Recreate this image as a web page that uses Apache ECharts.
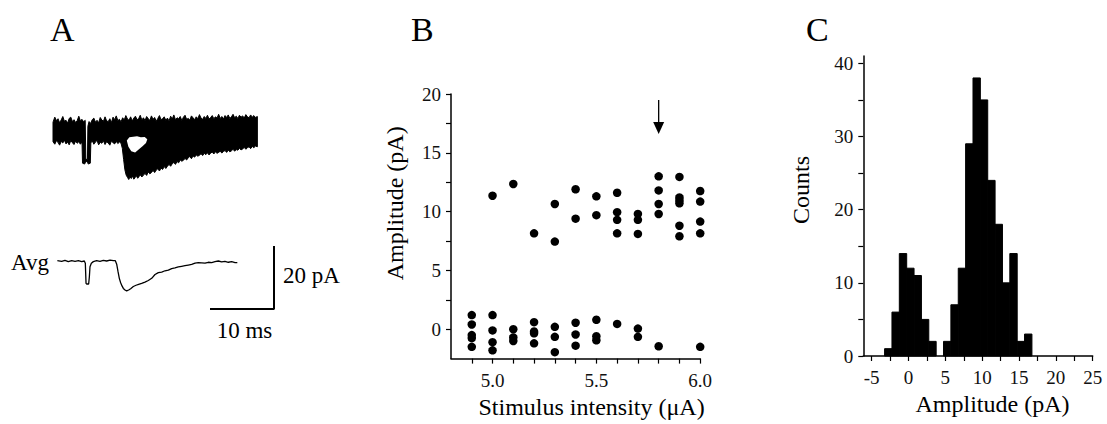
<!DOCTYPE html>
<html>
<head>
<meta charset="utf-8">
<script src="https://cdn.jsdelivr.net/npm/echarts@6/dist/echarts.min.js"></script>
<style>
  html, body { margin: 0; padding: 0; background: #fff; }
  #chart { width: 1107px; height: 424px; }
</style>
</head>
<body>
<div id="chart"></div>
<script>
// ---------- Panel A : current traces (time in ms, current in pA) ----------
// upper / lower edge of the superimposed sweeps
const overlayTop = [
  [0.47,2.8],[0.75,4.4],[1.0,3.3],[1.25,3.9],[1.5,2.6],[1.75,3.5],[2.0,4.6],[2.25,3.1],[2.5,3.4],[2.75,2.5],
  [3.0,4.0],[3.25,4.4],[3.5,3.0],[3.75,3.6],[4.0,2.7],[4.25,3.3],[4.5,4.7],[4.75,3.2],[5.0,3.7],[5.25,2.9],[5.5,3.4],
  [5.6,-9.0],[5.85,-9.0],[5.92,1.5],[6.1,3.0],[6.35,2.4],[6.6,3.6],[6.85,4.1],[7.1,2.8],[7.35,3.4],[7.6,2.6],
  [7.85,4.3],[8.1,3.5],[8.35,3.1],[8.6,4.5],[8.85,3.2],[9.1,3.0],[9.35,3.9],[9.6,2.7],[9.85,4.4],[10.1,3.6],
  [10.35,4.8],[10.6,3.3],[10.85,3.7],[11.1,2.9],[11.35,4.2],[11.6,3.5],[11.85,4.9],[12.1,3.8],[12.35,3.4],[12.6,4.5],
  [12.85,3.2],[13.1,4.1],[13.35,4.7],[13.6,3.6],[13.85,3.9],[14.1,5.0],[14.35,3.5],[14.6,4.2],[14.85,3.3],[15.1,4.6],
  [15.35,3.9],[15.6,3.4],[15.85,4.8],[16.1,3.7],[16.35,4.3],[16.6,3.1],[16.85,4.0],[17.1,4.9],[17.35,3.6],[17.6,3.9],
  [17.85,4.5],[18.1,3.4],[18.35,4.1],[18.6,3.2],[18.85,4.7],[19.1,3.8],[19.35,5.1],[19.6,3.6],[19.85,4.2],[20.1,3.9],
  [20.35,4.6],[20.6,3.3],[20.85,4.4],[21.1,5.0],[21.35,3.7],[21.6,4.0],[21.85,3.5],[22.1,4.8],[22.35,4.2],[22.6,3.6],
  [22.85,4.5],[23.1,3.9],[23.35,5.2],[23.6,4.1],[23.85,3.7],[24.1,4.6],[24.35,4.0],[24.6,5.0],[24.85,3.8],[25.1,4.3],
  [25.35,4.9],[25.6,3.9],[25.85,4.5],[26.1,4.1],[26.35,5.3],[26.6,4.0],[26.85,4.6],[27.1,3.8],[27.35,4.9],[27.6,4.3],
  [27.85,5.1],[28.1,4.0],[28.35,4.5],[28.6,5.3],[28.85,4.2],[29.1,4.7],[29.35,4.0],[29.6,5.0],[29.85,4.4],[30.1,4.8],
  [30.35,4.1],[30.6,5.2],[30.85,4.5],[31.1,4.2],[31.35,5.1],[31.6,4.4],[31.85,4.9],[32.1,4.3],[32.4,4.6]
];
const overlayBottom = [
  [0.47,-3.4],[0.75,-4.2],[1.0,-3.1],[1.25,-3.6],[1.5,-4.5],[1.75,-3.3],[2.0,-3.8],[2.25,-2.9],[2.5,-4.1],[2.75,-3.5],
  [3.0,-4.4],[3.25,-3.0],[3.5,-3.7],[3.75,-4.3],[4.0,-3.2],[4.25,-3.9],[4.5,-3.4],[4.75,-4.2],[5.0,-3.5],
  [5.08,-10.2],[5.4,-10.5],[5.55,-10.0],[5.7,-9.6],[5.85,-10.0],[6.0,-10.5],[6.3,-10.2],[6.38,-3.8],
  [6.6,-3.1],[6.85,-4.2],[7.1,-3.5],[7.35,-3.0],[7.6,-4.4],[7.85,-3.6],[8.1,-3.9],[8.35,-3.1],[8.6,-4.3],[8.85,-3.4],
  [9.1,-3.8],[9.35,-4.5],[9.6,-3.2],[9.85,-3.7],[10.1,-4.1],[10.35,-3.3],[10.6,-4.0],[10.85,-3.5],[11.1,-3.9],
  [11.3,-5.5],[11.5,-9.0],[11.7,-12.3],[11.9,-14.0],[12.1,-14.7],[12.3,-15.4],[12.5,-14.6],[12.7,-15.1],[12.9,-14.3],
  [13.1,-15.3],[13.3,-14.8],[13.5,-14.2],[13.7,-15.0],[13.9,-14.5],[14.1,-13.9],[14.35,-14.6],[14.6,-14.0],[14.85,-13.5],
  [15.1,-14.1],[15.35,-13.0],[15.6,-13.6],[15.85,-13.2],[16.1,-12.5],[16.35,-13.2],[16.6,-12.4],[16.85,-12.0],[17.1,-12.7],
  [17.35,-11.8],[17.6,-12.2],[17.85,-11.3],[18.1,-11.9],[18.35,-11.2],[18.6,-10.6],[18.85,-11.2],[19.1,-10.4],[19.35,-10.0],
  [19.6,-10.6],[19.85,-9.7],[20.1,-10.1],[20.35,-9.2],[20.6,-9.6],[20.85,-9.3],[21.1,-8.7],[21.35,-9.2],[21.6,-8.5],
  [21.85,-8.1],[22.1,-8.8],[22.35,-7.9],[22.6,-8.3],[22.85,-7.6],[23.1,-8.0],[23.35,-7.7],[23.6,-7.2],[23.85,-7.8],
  [24.1,-7.1],[24.35,-7.5],[24.6,-6.9],[24.85,-7.6],[25.1,-7.0],[25.35,-6.7],[25.6,-7.3],[25.85,-6.6],[26.1,-7.1],
  [26.35,-6.8],[26.6,-6.4],[26.85,-7.0],[27.1,-6.5],[27.35,-6.2],[27.6,-6.8],[27.85,-6.1],[28.1,-6.6],[28.35,-6.3],
  [28.6,-5.8],[28.85,-6.4],[29.1,-5.9],[29.35,-6.1],[29.6,-5.5],[29.85,-6.0],[30.1,-5.7],[30.35,-5.2],[30.6,-5.8],
  [30.85,-5.3],[31.1,-5.0],[31.35,-5.6],[31.6,-4.9],[31.85,-5.3],[32.1,-4.8],[32.4,-5.0]
];
// gap between failures and successes in the superimposed sweeps
const overlayGap = [
  [12.0,-3.0],[12.4,-2.0],[13.0,-1.8],[13.6,-1.7],[14.2,-2.0],[14.8,-1.9],[15.2,-2.6],
  [15.0,-3.8],[14.5,-4.8],[13.9,-5.8],[13.3,-6.8],[12.7,-6.4],[12.25,-5.0]
];
// averaged trace
const avgTrace = [
  [1.15,0.1],[1.82,-0.1],[2.34,0.2],[2.86,-0.2],[3.39,0.1],[3.91,-0.1],[4.43,0.1],[4.95,-0.2],[5.36,0],
  [5.52,-0.7],[5.63,-7.1],[5.73,-7.3],[6.04,-7.3],[6.15,-5.0],[6.25,-1.8],[6.46,-0.7],[6.77,-0.2],
  [7.29,0.1],[7.81,-0.1],[8.33,0.2],[8.85,0],[9.38,0.3],[9.9,0.1],[10.21,0.1],[10.42,-1.0],[10.63,-3.4],
  [10.83,-5.5],[11.04,-6.9],[11.25,-7.9],[11.46,-8.7],[11.72,-9.2],[11.98,-9.5],[12.29,-9.2],[12.6,-8.8],
  [13.02,-8.1],[13.44,-7.7],[13.85,-7.4],[14.32,-7.1],[14.84,-6.7],[15.36,-6.2],[15.89,-5.5],[16.41,-4.3],
  [16.93,-3.7],[17.45,-3.5],[17.97,-3.1],[18.49,-2.9],[19.01,-2.4],[19.53,-2.2],[20.05,-1.9],[20.57,-1.7],
  [21.09,-1.5],[21.61,-1.3],[22.14,-1.1],[22.66,-0.7],[23.18,-0.5],[23.7,-0.6],[24.22,-0.7],[24.74,-0.4],
  [25.26,-0.5],[25.78,-0.2],[26.3,0],[26.82,-0.3],[27.34,-0.1],[27.86,-0.4],[28.39,-0.2],[28.91,-0.5],[29.27,-0.5]
];
// scale bar (ms, pA)
const scaleBarCorner = [35, -15.24];
const scaleBarMs = 10;
const scaleBarPA = 20;

// ---------- Panel B : amplitude vs stimulus intensity ----------
const intensities = [4.9, 5.0, 5.1, 5.2, 5.3, 5.4, 5.5, 5.6, 5.7, 5.8, 5.9, 6.0];
const amplitudes = [
  [1.2, 0.4, -0.5, -0.75, -1.5],
  [11.35, 1.2, -0.1, -1.1, -1.8],
  [12.35, 0.0, -0.7, -1.0],
  [8.15, 0.6, -0.2, -0.35, -1.2],
  [10.65, 7.45, 0.2, -0.65, -1.95],
  [11.9, 9.4, 0.55, -0.45, -1.4],
  [11.3, 9.7, 0.8, -0.6, -0.95],
  [11.6, 9.95, 9.3, 8.15, 0.45],
  [9.8, 9.3, 8.1, 0.05, -0.65],
  [13.0, 11.8, 10.65, 9.8, -1.45],
  [12.95, 11.2, 10.95, 10.7, 8.8, 7.9],
  [11.75, 10.85, 9.15, 8.15, -1.5]
];
const arrowIntensity = 5.8;
const arrowFromTo = [19.5, 16.6];
const bXTicks = [4.9, 5.0, 5.1, 5.2, 5.3, 5.4, 5.5, 5.6, 5.7, 5.8, 5.9, 6.0];
const bXLabels = [5.0, 5.5, 6.0];
const bYTicks = [0, 2.5, 5, 7.5, 10, 12.5, 15, 17.5, 20];
const bYLabels = [0, 5, 10, 15, 20];

// ---------- Panel C : amplitude histogram ----------
const binCenters = [-2.75, -1.75, -0.75, 0.25, 1.25, 2.25, 3.25, 4.25, 5.25, 6.25,
                    7.25, 8.25, 9.25, 10.25, 11.25, 12.25, 13.25, 14.25, 15.25, 16.25];
const binCounts  = [1, 6, 14, 12, 11, 5, 2, 0, 2, 7,
                    12, 29, 38, 35, 24, 18, 10, 14, 2, 3];
const binWidth = 1;
const cXTicks = [-5, -2.5, 0, 2.5, 5, 7.5, 10, 12.5, 15, 17.5, 20, 22.5, 25];
const cXLabels = [-5, 0, 5, 10, 15, 20, 25];
const cYTicks = [0, 5, 10, 15, 20, 25, 30, 35, 40];
const cYLabels = [0, 10, 20, 30, 40];

// ---------- chart ----------
const FONT = '"Liberation Serif", "Times New Roman", serif';
const chart = echarts.init(document.getElementById('chart'), null, { renderer: 'svg' });

const scatterData = [];
intensities.forEach((x, i) => amplitudes[i].forEach(y => scatterData.push([x, y])));

const scaleBar = [
  [scaleBarCorner[0] - scaleBarMs, scaleBarCorner[1]],
  [scaleBarCorner[0], scaleBarCorner[1]],
  [scaleBarCorner[0], scaleBarCorner[1] + scaleBarPA]
];

const axisLine = { show: true, onZero: false, lineStyle: { color: '#000', width: 1.5 } };
const axisTickBase = { show: true, inside: false, length: 5, lineStyle: { color: '#000', width: 1.2 } };
const labelBase = { color: '#111', fontFamily: FONT, fontSize: 19 };
const nameStyle = (pad) => ({ color: '#000', fontFamily: FONT, fontSize: 24, padding: [0, 0, 0, pad] });

const hiddenAxis = (min, max) => ({ type: 'value', min, max, show: false });

const option = {
  animation: false,
  backgroundColor: '#fff',
  textStyle: { fontFamily: FONT },
  grid: [
    { left: 50, top: 99.5, width: 224, height: 94.5 },
    { left: 50, top: 229.5, width: 224, height: 94.5 },
    { left: 451, top: 94, width: 249.2, height: 264.6 },
    { left: 863.3, top: 56, width: 229.4, height: 300 }
  ],
  xAxis: [
    Object.assign(hiddenAxis(0, 35), { gridIndex: 0 }),
    Object.assign(hiddenAxis(0, 35), { gridIndex: 1 }),
    {
      type: 'value', gridIndex: 2, min: 4.8, max: 6.0,
      axisLine, splitLine: { show: false },
      axisTick: Object.assign({}, axisTickBase, { customValues: bXTicks }),
      axisLabel: Object.assign({}, labelBase, { customValues: bXLabels, margin: 12, formatter: v => v.toFixed(1) }),
      name: 'Stimulus intensity (\u03BCA)', nameLocation: 'middle', nameGap: 30, nameTextStyle: nameStyle(32)
    },
    {
      type: 'value', gridIndex: 3, min: -6.14, max: 25,
      axisLine, splitLine: { show: false },
      axisTick: Object.assign({}, axisTickBase, { customValues: cXTicks }),
      axisLabel: Object.assign({}, labelBase, { customValues: cXLabels, margin: 12 }),
      name: 'Amplitude (pA)', nameLocation: 'middle', nameGap: 32, nameTextStyle: nameStyle(29)
    }
  ],
  yAxis: [
    Object.assign(hiddenAxis(-20, 10), { gridIndex: 0 }),
    Object.assign(hiddenAxis(-20, 10), { gridIndex: 1 }),
    {
      type: 'value', gridIndex: 2, min: -2.5, max: 20,
      axisLine, splitLine: { show: false },
      axisTick: Object.assign({}, axisTickBase, { customValues: bYTicks }),
      axisLabel: Object.assign({}, labelBase, { customValues: bYLabels, margin: 10 }),
      name: 'Amplitude (pA)', nameLocation: 'middle', nameRotate: 90, nameGap: 44, nameTextStyle: nameStyle(46)
    },
    {
      type: 'value', gridIndex: 3, min: 0, max: 41,
      axisLine, splitLine: { show: false },
      axisTick: Object.assign({}, axisTickBase, { customValues: cYTicks }),
      axisLabel: Object.assign({}, labelBase, { customValues: cYLabels, margin: 10 }),
      name: 'Counts', nameLocation: 'middle', nameRotate: 90, nameGap: 50, nameTextStyle: nameStyle(32)
    }
  ],
  series: [
    {
      type: 'custom', xAxisIndex: 0, yAxisIndex: 0, clip: false, silent: true,
      data: [[0, 0]],
      renderItem: function (params, api) {
        const pts = overlayTop.map(p => api.coord(p))
          .concat(overlayBottom.slice().reverse().map(p => api.coord(p)));
        const gap = overlayGap.map(p => api.coord(p));
        return {
          type: 'group',
          children: [
            { type: 'polygon', shape: { points: pts }, style: { fill: '#000', stroke: '#000', lineWidth: 1 } },
            { type: 'polygon', shape: { points: gap }, style: { fill: '#fff' } }
          ]
        };
      }
    },
    {
      type: 'line', xAxisIndex: 1, yAxisIndex: 1, data: avgTrace, showSymbol: false, silent: true,
      lineStyle: { color: '#000', width: 1.3 }
    },
    {
      type: 'line', xAxisIndex: 1, yAxisIndex: 1, data: scaleBar, showSymbol: false, silent: true,
      lineStyle: { color: '#000', width: 2 }
    },
    {
      type: 'scatter', xAxisIndex: 2, yAxisIndex: 2, data: scatterData, symbolSize: 8.5, silent: true,
      itemStyle: { color: '#000', opacity: 1 }
    },
    {
      // arrow marking the chosen stimulus intensity
      type: 'custom', xAxisIndex: 2, yAxisIndex: 2, clip: false, silent: true,
      data: [[arrowIntensity, arrowFromTo[0], arrowFromTo[1]]],
      renderItem: function (params, api) {
        const a = api.coord([api.value(0), api.value(1)]);
        const b = api.coord([api.value(0), api.value(2)]);
        const hw = 5.5, hh = 12;
        return {
          type: 'group',
          children: [
            { type: 'line', shape: { x1: a[0], y1: a[1], x2: b[0], y2: b[1] - hh + 1 }, style: { stroke: '#000', lineWidth: 1.3 } },
            { type: 'polygon', shape: { points: [[b[0] - hw, b[1] - hh], [b[0] + hw, b[1] - hh], [b[0], b[1]]] }, style: { fill: '#000' } }
          ]
        };
      }
    },
    {
      type: 'custom', xAxisIndex: 3, yAxisIndex: 3, silent: true,
      data: binCenters.map((c, i) => [c, binCounts[i]]),
      renderItem: function (params, api) {
        const c = api.value(0), n = api.value(1);
        if (!n) return null;
        const p0 = api.coord([c - binWidth / 2, n]);
        const p1 = api.coord([c + binWidth / 2, 0]);
        return { type: 'rect', shape: { x: p0[0], y: p0[1], width: p1[0] - p0[0], height: p1[1] - p0[1] },
                 style: { fill: '#000', stroke: '#000', lineWidth: 1 } };
      }
    }
  ],
  graphic: [
    { type: 'text', style: { text: 'A', x: 50, y: 29.5, font: '34px ' + FONT, fill: '#000', verticalAlign: 'middle' } },
    { type: 'text', style: { text: 'B', x: 411, y: 29.5, font: '34px ' + FONT, fill: '#000', verticalAlign: 'middle' } },
    { type: 'text', style: { text: 'C', x: 806, y: 29.5, font: '34px ' + FONT, fill: '#000', verticalAlign: 'middle' } },
    { type: 'text', style: { text: 'Avg', x: 11, y: 262.5, font: '23px ' + FONT, fill: '#000', verticalAlign: 'middle' } },
    { type: 'text', style: { text: '20 pA', x: 283, y: 275, font: '23px ' + FONT, fill: '#000', verticalAlign: 'middle' } },
    { type: 'text', style: { text: '10 ms', x: 244.5, y: 330, font: '23px ' + FONT, fill: '#000', align: 'center', verticalAlign: 'middle' } }
  ]
};
chart.setOption(option);
</script>
</body>
</html>
